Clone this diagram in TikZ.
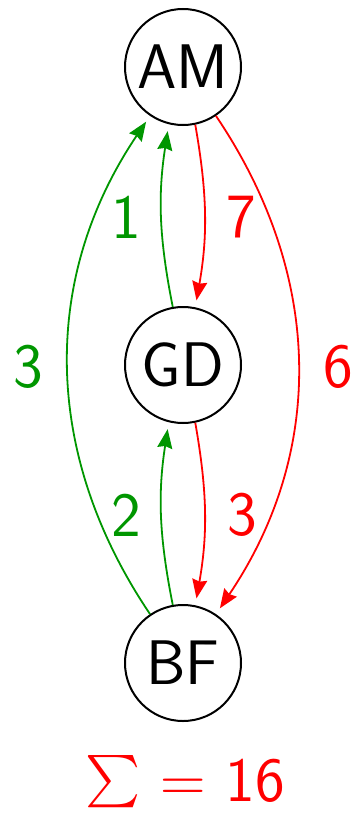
\RequirePackage{fix-cm}
\documentclass[tikz,border=0pt]{standalone}
\usepackage{exscale}
\usepackage{graphicx}
\usetikzlibrary{arrows.meta}
\definecolor{grn}{RGB}{0,150,0}
\begin{document}
\begin{tikzpicture}[x=1pt,y=-1pt,
  state/.style={circle,draw,line width=2pt,minimum size=116pt,inner sep=0pt,font=\fontsize{63}{75}\selectfont\sffamily},
  lbl/.style={font=\fontsize{63}{75}\selectfont\sffamily},
  edge/.style={line width=1.8pt,-{Stealth[length=19pt,width=15pt,inset=2pt]},shorten >=7pt}]
\useasboundingbox (0,0) rectangle (354,816);
\node[state] (AM) at (183,67) {AM};
\node[state] (GD) at (183,365) {GD};
\node[state] (BF) at (183,663) {BF};
\draw[edge,red] (AM.-78) to[bend left=10] (GD.78);
\draw[edge,grn] (GD.100) to[bend left=10] (AM.-104);
\draw[edge,red] (GD.-78) to[bend left=10] (BF.78);
\draw[edge,grn] (BF.100) to[bend left=10] (GD.-104);
\draw[edge,grn] (BF.124) to[bend left=34] (AM.-124);
\draw[edge,red] (AM.-56) to[bend left=34] (BF.56);
\node[lbl,text=grn] (l1) at (126,217) {1};
\node[lbl,text=red] (l7) at (241,217) {7};
\node[lbl,text=grn] (l2) at (126,515) {2};
\node[lbl,text=red] (l3a) at (242,515) {3};
\node[lbl,text=grn] (l3) at (28,367) {3};
\node[lbl,text=red] (l6) at (338,367) {6};
\node[lbl,text=red,anchor=base,inner sep=0pt] (sum) at (185,801) {$\vcenter{\hbox{\scalebox{2.1}{$\sum$}}}\hspace{20pt}{=}\hspace{20pt}\mbox{16}$};
\end{tikzpicture}
\end{document}
